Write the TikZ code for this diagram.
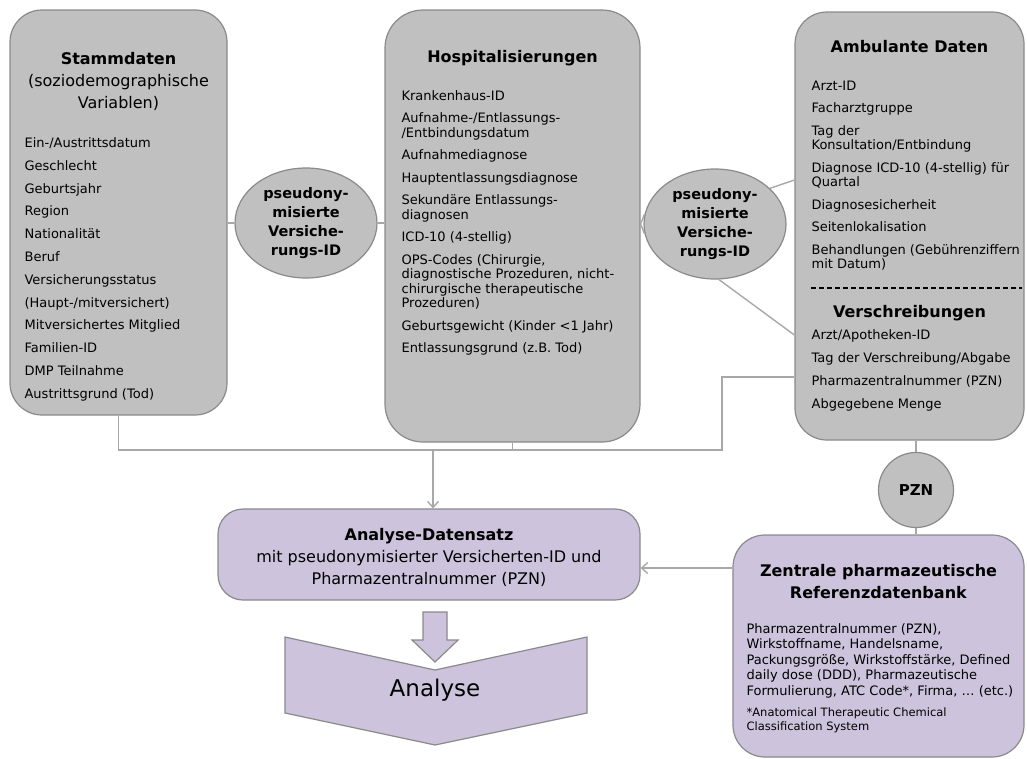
\documentclass[tikz,border=0pt]{standalone}
\usepackage{fontspec}
\setmainfont{DejaVu Sans}
\usetikzlibrary{positioning, arrows.meta, shapes.geometric}

\definecolor{boxgray}{RGB}{192,192,192}
\definecolor{boxline}{RGB}{138,138,138}
\definecolor{lilac}{RGB}{205,195,220}
\definecolor{linkgray}{RGB}{168,168,168}

\begin{document}
\begin{tikzpicture}[x=1pt, y=-1pt]
    \tikzset{
      box/.style={
        rectangle, rounded corners=32pt,
        draw=boxline, line width=1.2pt, fill=boxgray, inner sep=0pt
      },
      lilacbox/.style={box, fill=lilac},
      title/.style={inner sep=0pt, align=center, font=\fontsize{16}{22}\selectfont},
      itemlist/.style={inner sep=0pt, align=left, font=\fontsize{13}{14.5}\selectfont},
      idellipse/.style={
        ellipse, draw=boxline, line width=1.2pt, fill=boxgray,
        inner sep=0pt, minimum width=142pt, minimum height=110pt,
        align=center, font=\fontsize{14.5}{19}\selectfont\bfseries
      },
      link/.style={draw=linkgray, line width=1.4pt},
      arr/.style={link, -{Straight Barb[length=6pt,width=11pt]}},
      sepline/.style={black, line width=2pt, dash pattern=on 5pt off 3pt},
      blockshape/.style={fill=lilac, draw=boxline, line width=1.2pt}
    }
    \useasboundingbox (0,0) rectangle (1027,758);

    % Data sources
    \node[box, minimum width=217pt, minimum height=405pt] (stamm) at (118.5,212.5) {};
    \node[box, rounded corners=38pt, minimum width=255pt, minimum height=432pt] (hosp) at (512.5,226) {};
    \node[box, minimum width=229pt, minimum height=428pt] (amb) at (909.5,226) {};

    \node[title, below=43pt of stamm.north] (stammT) {\textbf{Stammdaten}\\(soziodemographische\\Variablen)};
    \node[itemlist, below right=128pt and 15pt of stamm.north west] (stammL) {%
      Ein-/Austrittsdatum\\[8.3pt]Geschlecht\\[8.3pt]Geburtsjahr\\[8.3pt]Region\\[8.3pt]%
      Nationalität\\[8.3pt]Beruf\\[8.3pt]Versicherungsstatus\\[8.3pt](Haupt-/mitversichert)\\[8.3pt]%
      Mitversichertes Mitglied\\[8.3pt]Familien-ID\\[8.3pt]DMP Teilnahme\\[8.3pt]Austrittsgrund (Tod)};

    \node[title, below=41pt of hosp.north] (hospT) {\textbf{Hospitalisierungen}};
    \node[itemlist, below right=81pt and 17pt of hosp.north west] (hospL) {%
      Krankenhaus-ID\\[8pt]Aufnahme-/Entlassungs-\\/Entbindungsdatum\\[8pt]%
      Aufnahmediagnose\\[8pt]Hauptentlassungsdiagnose\\[8pt]Sekundäre Entlassungs-\\diagnosen\\[8pt]%
      ICD-10 (4-stellig)\\[8pt]OPS-Codes (Chirurgie,\\diagnostische Prozeduren, nicht-\\%
      chirurgische therapeutische\\Prozeduren)\\[8pt]Geburtsgewicht (Kinder <1 Jahr)\\[8pt]%
      Entlassungsgrund (z.B. Tod)};

    \node[title, below=29pt of amb.north] (ambT) {\textbf{Ambulante Daten}};
    \node[itemlist, below right=69pt and 17pt of amb.north west] (ambL) {%
      Arzt-ID\\[8pt]Facharztgruppe\\[8pt]Tag der\\Konsultation/Entbindung\\[8pt]%
      Diagnose ICD-10 (4-stellig) für\\Quartal\\[8pt]Diagnosesicherheit\\[8pt]%
      Seitenlokalisation\\[8pt]Behandlungen (Gebührenziffern\\mit Datum)};
    \draw[sepline] ([xshift=17pt, yshift=-62pt]amb.west) -- ([xshift=-3pt, yshift=-62pt]amb.east);
    \node[title, below=294pt of amb.north] (verT) {\textbf{Verschreibungen}};
    \node[itemlist, below right=318pt and 17pt of amb.north west] (verL) {%
      Arzt/Apotheken-ID\\[8.5pt]Tag der Verschreibung/Abgabe\\[8.5pt]%
      Pharmazentralnummer (PZN)\\[8.5pt]Abgegebene Menge};

    % Linking keys
    \node[idellipse] (id1) at (306,223) {pseudony-\\misierte\\Versiche-\\rungs-ID};
    \node[idellipse] (id2) at (715,224) {pseudony-\\misierte\\Versiche-\\rungs-ID};
    \node[circle, draw=boxline, line width=1.2pt, fill=boxgray, minimum size=75pt,
          inner sep=0pt, font=\fontsize{15}{18}\selectfont\bfseries] (pzn) at (916,490) {PZN};

    % Result boxes
    \node[lilacbox, rounded corners=25pt, minimum width=422pt, minimum height=91pt] (ads) at (429,554.5) {};
    \node[title, below=20pt of ads.north] (adsT) {\textbf{Analyse-Datensatz}\\mit pseudonymisierter Versicherten-ID und\\Pharmazentralnummer (PZN)};

    \node[lilacbox, minimum width=291pt, minimum height=222pt] (zent) at (878.5,646) {};
    \node[title, below=30pt of zent.north] (zentT) {\textbf{Zentrale pharmazeutische}\\\textbf{Referenzdatenbank}};
    \node[itemlist, font=\fontsize{13}{15.5}\selectfont, below right=89pt and 14pt of zent.north west] (zentL) {%
      Pharmazentralnummer (PZN),\\Wirkstoffname, Handelsname,\\Packungsgröße, Wirkstoffstärke, Defined\\%
      daily dose (DDD), Pharmazeutische\\Formulierung, ATC Code*, Firma, … (etc.)};
    \node[itemlist, font=\fontsize{11.5}{14}\selectfont, below right=173pt and 14pt of zent.north west] (zentF) {%
      *Anatomical Therapeutic Chemical\\Classification System};

    % Analyse
    \draw[blockshape] (423,612) -- (447,612) -- (447,640) -- (458,640) -- (435,662) -- (412,640) -- (423,640) -- cycle;
    \draw[blockshape] (285,637) -- (435,670) -- (587,637) -- (587,713) -- (435,745) -- (285,713) -- cycle;
    \node[font=\fontsize{23}{28}\selectfont] (analyse) at (435,690) {Analyse};

    % Connectors
    \coordinate (bus) at (433,450);
    \coordinate (busR) at (722,450);
    \coordinate (zin) at ([yshift=78pt]zent.west);
    \draw[link] (stamm.east |- id1.west) -- (id1.west);
    \draw[link] (id1.east) -- (hosp.west |- id1.east);
    \draw[link] (id2.172) -- (hosp.east |- id2.west) -- (id2.188);
    \draw[link] (id2.33) -- ([yshift=46pt]amb.west);
    \draw[link] (id2.-86) -- ([yshift=-109pt]amb.west);
    \draw[link] (stamm.south) |- (busR) |- ([yshift=-151pt]amb.west);
    \draw[link] (hosp.south) -- (hosp.south |- bus);
    \draw[arr] (bus) -- (bus |- ads.north);
    \draw[link] (pzn.north) -- (pzn.north |- amb.south);
    \draw[link] (pzn.south) -- (pzn.south |- zent.north);
    \draw[arr] (zin) -- (zin -| ads.east);
\end{tikzpicture}
\end{document}
